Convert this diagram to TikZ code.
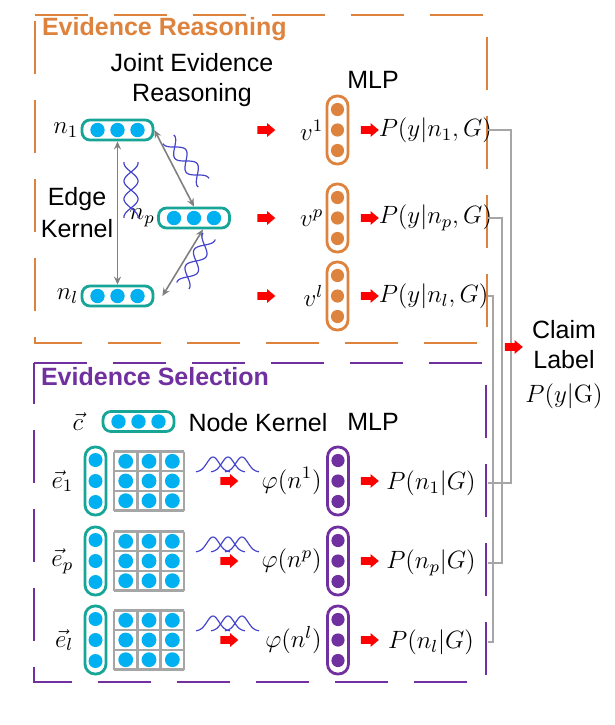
\documentclass[tikz,border=0pt]{standalone}
\usepackage{fix-cm}
\usepackage[no-math]{fontspec}
\setmainfont{Liberation Sans}
\usepackage{amsmath}
\usepackage{xcolor}
\usepackage{tikz}
\usetikzlibrary{positioning,arrows.meta,shapes.arrows}
\definecolor{evorange}{HTML}{DE833E}
\definecolor{evpurple}{HTML}{7030A0}
\definecolor{evteal}{HTML}{16A596}
\definecolor{evcyan}{HTML}{00B0F0}
\definecolor{evwave}{HTML}{4444CC}

\begin{document}
\begin{tikzpicture}[x=0.5pt, y=-0.5pt,
                    font=\fontsize{12.5}{15}\selectfont,
                    hbox/.style={draw=evteal, line width=1.4pt, rounded corners=4pt,
                                 minimum width=35.5pt, minimum height=10pt, inner sep=0pt},
                    vbox/.style={draw=#1, line width=1.4pt, rounded corners=5pt,
                                 minimum width=10.5pt, minimum height=34pt, inner sep=0pt},
                    lbl/.style={inner sep=1pt},
                    redarrow/.style={single arrow, fill=red, inner sep=1.75pt, minimum height=9pt,
                                     single arrow head extend=1.5pt, single arrow tip angle=80},
                    kernarrow/.style={draw=gray, line width=0.8pt,
                                      arrows={Stealth[length=4pt,width=3.5pt]-Stealth[length=4pt,width=3.5pt]}},
                    conn/.style={draw=gray!70, line width=0.7pt},
                    wave/.style={draw=evwave, line width=0.6pt},
                    gridline/.style={draw=gray!70, line width=1.2pt},
                    panel/.style={draw=#1, line width=1.4pt, dash pattern=on 26.5pt off 13pt},
                    title/.style={anchor=west, font=\fontsize{12.5}{15}\selectfont\bfseries, text=#1}]
  \useasboundingbox (0,0) rectangle (615,725);

  \draw[panel=evorange] (35,15) -- (487,15) -- (487,343) -- (35,343) -- cycle;
  \draw[panel=evpurple] (34,363) -- (486,363) -- (486,682) -- (34,682) -- cycle;
  \node[title=evorange] (rtitle) at (35,29) {Evidence Reasoning};
  \node[title=evpurple] (stitle) at (34,377) {Evidence Selection};

  \node[align=center] (jer) at (192,80) {Joint Evidence\\Reasoning};
  \node (mlpr) at (373,80) {MLP};
  \node[align=center, font=\fontsize{12.5}{16}\selectfont] (ek) at (77,213) {Edge\\Kernel};

  \foreach \nx/\y/\r in {117.5/130/1, 194/218/p, 117.5/296/l} {
    \node[hbox] (n\r) at (\nx,\y) {};
    \foreach \d in {-10pt,0pt,10pt} \fill[evcyan] ([xshift=\d]n\r.center) circle (3.6pt);
    \node[lbl, left=0pt of n\r] (ln\r) {$n_{\r}$};
    \node[redarrow] (ar\r) at (264,\y) {};
    \node[vbox=evorange] (m\r) at (337.5,\y) {};
    \foreach \d in {-10.25pt,0pt,10.25pt} \fill[evorange] ([yshift=\d]m\r.center) circle (3.3pt);
    \node[lbl, left=0pt of m\r] (lv\r) {$v^{\r}$};
    \node[redarrow] (am\r) at (367.5,\y) {};
    \node[lbl, right=13.5pt of m\r] (py\r) {$P(y|n_{\r},G)$};
  }

  \draw[kernarrow] (n1.south) -- (nl.north);
  \draw[kernarrow] (n1.east) -- (np.north);
  \draw[kernarrow] ([xshift=4.5pt]np.south) -- ([xshift=4pt]nl.east);
  \foreach \cx/\cy/\a in {131/190/90, 186/161/-51, 196/261/62} {
    \begin{scope}[shift={(\cx,\cy)}, rotate=\a]
      \draw[wave] plot[domain=-28:28, samples=60, smooth] (\x, {7*sin(\x*360/36)});
      \draw[wave] plot[domain=-28:28, samples=60, smooth] (\x, {-7*sin(\x*360/36)});
    \end{scope}
  }

  \node[hbox] (c) at (138.5,421.5) {};
  \foreach \d in {-10pt,0pt,10pt} \fill[evcyan] ([xshift=\d]c.center) circle (3.6pt);
  \node[lbl, left=8pt of c] (lc) {$\vec{c}$};
  \node (nk) at (258,423) {Node Kernel};
  \node (mlps) at (373,422) {MLP};

  \foreach \y/\r in {481/1, 561/p, 640/l} {
    \node[vbox=evteal] (e\r) at (95.5,\y) {};
    \foreach \d in {-10.5pt,0pt,10.5pt} \fill[evcyan] ([yshift=\d]e\r.center) circle (3.5pt);
    \node[lbl, left=4pt of e\r] (le\r) {$\vec{e}_{\r}$};
    \foreach \i in {0,...,3} {
      \draw[gridline] (114+23.33*\i,\y-29.5) -- ++(0,59);
      \draw[gridline] (114,\y-29.5+19.67*\i) -- ++(70,0);
    }
    \foreach \i in {0,1,2} \foreach \j in {0,1,2}
      \fill[evcyan] (125.7+23.33*\i,\y-19.7+19.7*\j) circle (3.7pt);
    \foreach \c in {213,228,242}
      \draw[wave] plot[domain=-17:17, samples=31, smooth] ({\c+\x},{\y-9-15*exp(-(\x/8.5)*(\x/8.5))});
    \node[redarrow] (aw\r) at (227,\y) {};
    \node[vbox=evpurple] (s\r) at (338,\y) {};
    \foreach \d in {-10.25pt,0pt,10.25pt} \fill[evpurple] ([yshift=\d]s\r.center) circle (3.3pt);
    \node[lbl, left=1pt of s\r] (lphi\r) {$\varphi(n^{\r})$};
    \node[redarrow] (as\r) at (367.5,\y) {};
    \node[lbl] (pn\r) at (431,\y+2) {$P(n_{\r}|G)$};
  }

  \coordinate (xr) at (488,0);
  \coordinate (j1) at (511,347);
  \coordinate (jp) at (502,347);
  \coordinate (jl) at (493,347);
  \draw[conn] (py1.east -| xr) -| (j1) |- (pn1.east -| xr);
  \draw[conn] (pyp.east -| xr) -| (jp) |- (pnp.east -| xr);
  \draw[conn] (pyl.east -| xr) -| (jl) |- (pnl.east -| xr);
  \node[redarrow] (ac) at (511.5,347) {};
  \node[align=center] (claim) at (564,365) {Claim\\Label\\[2pt]$P(y|\mathrm{G})$};
\end{tikzpicture}
\end{document}
